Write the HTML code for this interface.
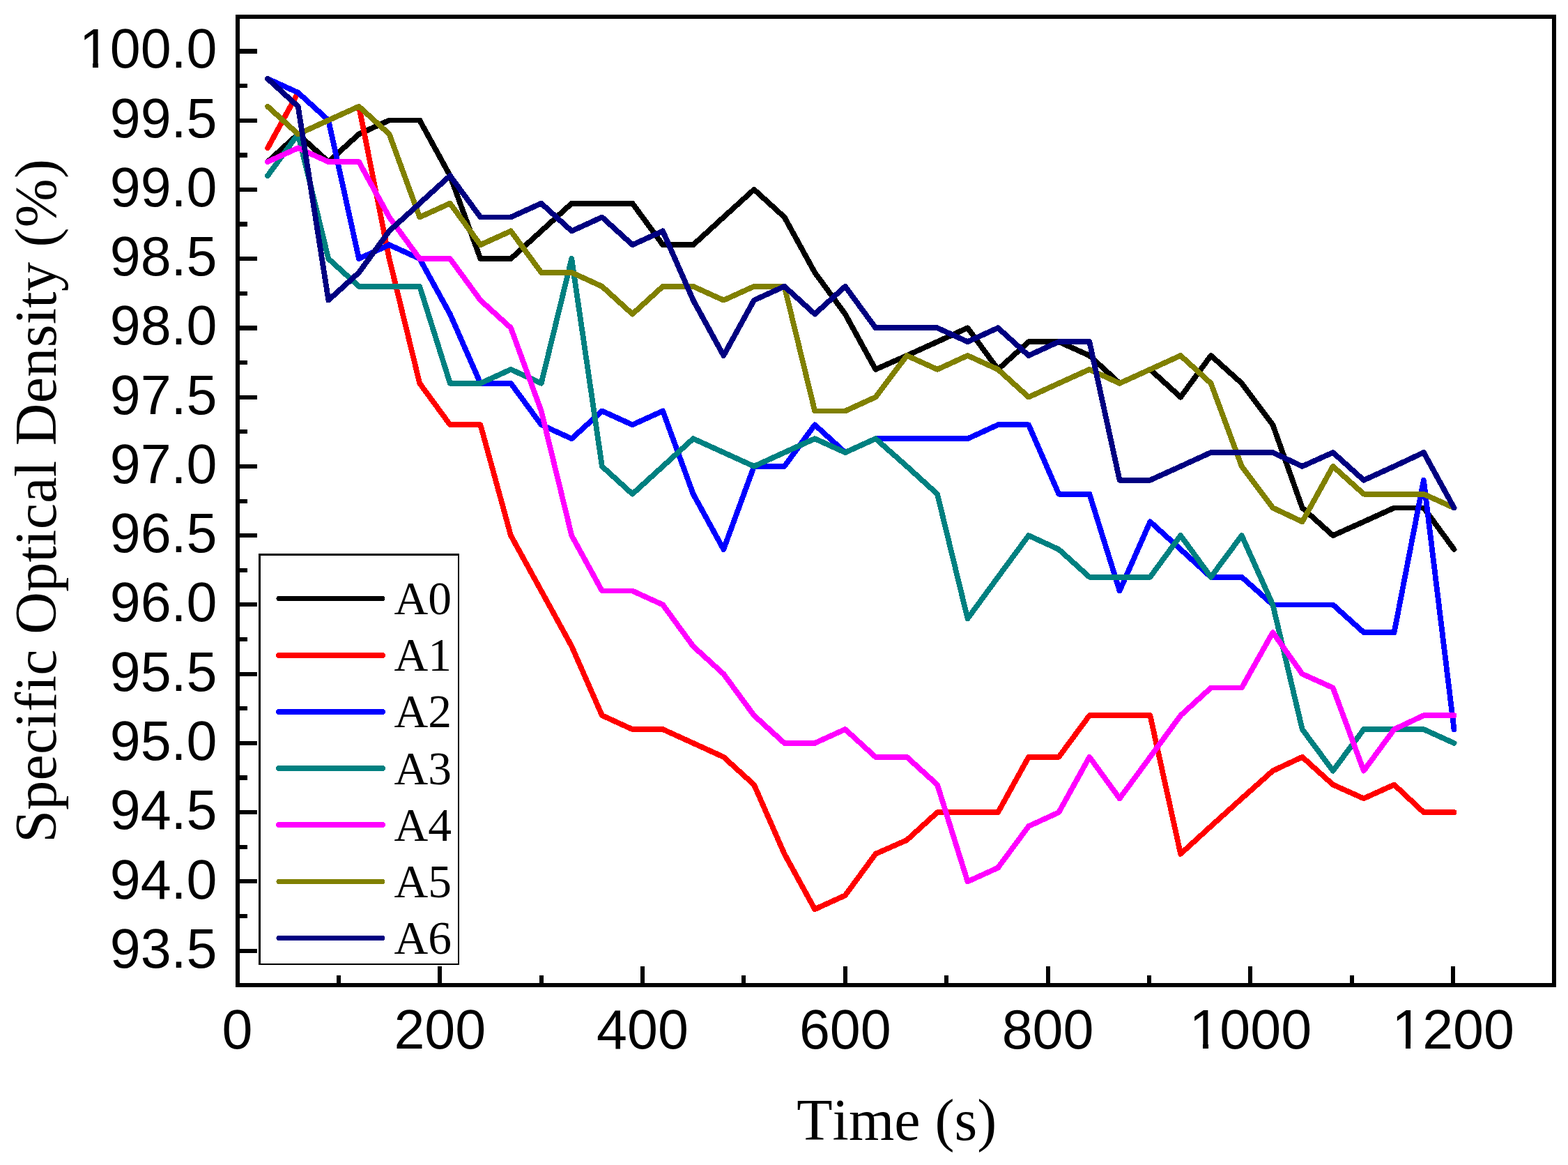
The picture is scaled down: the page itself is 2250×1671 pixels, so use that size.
<!DOCTYPE html>
<html lang="en"><head><meta charset="utf-8"><title>Specific Optical Density vs Time</title>
<style>
html,body{margin:0;padding:0;background:#fff;}
body{width:2250px;height:1671px;overflow:hidden;}
svg{display:block;}
text{font-variant-ligatures:none;font-kerning:none;fill:#000;}
.tk{font-family:"Liberation Sans",Arial,Helvetica,sans-serif;font-size:79px;}
.tt{font-family:"Liberation Serif","Times New Roman",Times,serif;font-size:84px;}
.lg{font-family:"Liberation Serif","Times New Roman",Times,serif;font-size:67.5px;}
.ax{stroke:#000;stroke-width:6;fill:none;shape-rendering:crispEdges;}
.ds{fill:none;stroke-width:7.8;stroke-linejoin:round;stroke-linecap:round;shape-rendering:crispEdges;}
</style></head><body>
<svg xmlns="http://www.w3.org/2000/svg" width="2250" height="1671" viewBox="0 0 2250 1671">
<rect x="0" y="0" width="2250" height="1671" fill="#ffffff"/>
<g class="ds">
<polyline stroke="#000000" points="384.1,232.1 427.7,192.4 471.3,232.1 515.0,192.4 558.6,172.5 602.2,172.5 645.8,252.0 689.4,371.1 733.0,371.1 776.7,331.4 820.3,291.7 863.9,291.7 907.5,291.7 951.1,351.2 994.7,351.2 1038.3,311.5 1082.0,271.8 1125.6,311.5 1169.2,390.9 1212.8,450.5 1256.4,529.9 1301.3,510.0 1345.0,490.2 1388.5,470.3 1432.1,529.9 1476.0,490.2 1519.3,490.2 1563.3,510.0 1606.6,549.8 1650.4,529.9 1694.1,569.6 1737.6,510.0 1781.8,549.8 1826.4,609.3 1868.7,728.4 1912.7,768.1 1956.9,748.3 2000.6,728.4 2042.9,728.4 2086.5,788.0"/>
<polyline stroke="#ff0000" points="384.1,212.3 427.7,132.8 471.3,172.5 515.0,152.7 558.6,371.1 602.2,549.8 645.8,609.3 689.4,609.3 733.0,768.1 776.7,847.5 820.3,927.0 863.9,1026.2 907.5,1046.1 951.1,1046.1 994.7,1065.9 1038.3,1085.8 1082.0,1125.5 1125.6,1224.8 1169.2,1304.2 1212.8,1284.3 1256.4,1224.8 1301.3,1204.9 1345.0,1165.2 1388.5,1165.2 1432.1,1165.2 1476.0,1085.8 1519.3,1085.8 1563.3,1026.2 1606.6,1026.2 1650.4,1026.2 1694.1,1224.8 1737.6,1185.1 1781.8,1145.3 1826.4,1105.6 1868.7,1085.8 1912.7,1125.5 1956.9,1145.3 2000.6,1125.5 2042.9,1165.2 2086.5,1165.2"/>
<polyline stroke="#0000ff" points="384.1,113.0 427.7,132.8 471.3,172.5 515.0,371.1 558.6,351.2 602.2,371.1 645.8,450.5 689.4,549.8 733.0,549.8 776.7,609.3 820.3,629.2 863.9,589.5 907.5,609.3 951.1,589.5 994.7,708.6 1038.3,788.0 1082.0,668.9 1125.6,668.9 1169.2,609.3 1212.8,649.0 1256.4,629.2 1301.3,629.2 1345.0,629.2 1388.5,629.2 1432.1,609.3 1476.0,609.3 1519.3,708.6 1563.3,708.6 1606.6,847.5 1650.4,748.3 1694.1,788.0 1737.6,827.7 1781.8,827.7 1826.4,867.4 1868.7,867.4 1912.7,867.4 1956.9,907.1 2000.6,907.1 2042.9,688.7 2086.5,1046.1"/>
<polyline stroke="#008080" points="384.1,252.0 427.7,192.4 471.3,371.1 515.0,410.8 558.6,410.8 602.2,410.8 645.8,549.8 689.4,549.8 733.0,529.9 776.7,549.8 820.3,371.1 863.9,668.9 907.5,708.6 951.1,668.9 994.7,629.2 1038.3,649.0 1082.0,668.9 1125.6,649.0 1169.2,629.2 1212.8,649.0 1256.4,629.2 1301.3,668.9 1345.0,708.6 1388.5,887.3 1432.1,827.7 1476.0,768.1 1519.3,788.0 1563.3,827.7 1606.6,827.7 1650.4,827.7 1694.1,768.1 1737.6,827.7 1781.8,768.1 1826.4,867.4 1868.7,1046.1 1912.7,1105.6 1956.9,1046.1 2000.6,1046.1 2042.9,1046.1 2086.5,1065.9"/>
<polyline stroke="#ff00ff" points="384.1,232.1 427.7,212.3 471.3,232.1 515.0,232.1 558.6,311.5 602.2,371.1 645.8,371.1 689.4,430.6 733.0,470.3 776.7,589.5 820.3,768.1 863.9,847.5 907.5,847.5 951.1,867.4 994.7,927.0 1038.3,966.7 1082.0,1026.2 1125.6,1065.9 1169.2,1065.9 1212.8,1046.1 1256.4,1085.8 1301.3,1085.8 1345.0,1125.5 1388.5,1264.5 1432.1,1244.6 1476.0,1185.1 1519.3,1165.2 1563.3,1085.8 1606.6,1145.3 1650.4,1085.8 1694.1,1026.2 1737.6,986.5 1781.8,986.5 1826.4,907.1 1868.7,966.7 1912.7,986.5 1956.9,1105.6 2000.6,1046.1 2042.9,1026.2 2086.5,1026.2"/>
<polyline stroke="#808000" points="384.1,152.7 427.7,192.4 471.3,172.5 515.0,152.7 558.6,192.4 602.2,311.5 645.8,291.7 689.4,351.2 733.0,331.4 776.7,390.9 820.3,390.9 863.9,410.8 907.5,450.5 951.1,410.8 994.7,410.8 1038.3,430.6 1082.0,410.8 1125.6,410.8 1169.2,589.5 1212.8,589.5 1256.4,569.6 1301.3,510.0 1345.0,529.9 1388.5,510.0 1432.1,529.9 1476.0,569.6 1519.3,549.8 1563.3,529.9 1606.6,549.8 1650.4,529.9 1694.1,510.0 1737.6,549.8 1781.8,668.9 1826.4,728.4 1868.7,748.3 1912.7,668.9 1956.9,708.6 2000.6,708.6 2042.9,708.6 2086.5,728.4"/>
<polyline stroke="#000080" points="384.1,113.0 427.7,152.7 471.3,430.6 515.0,390.9 558.6,331.4 602.2,291.7 645.8,252.0 689.4,311.5 733.0,311.5 776.7,291.7 820.3,331.4 863.9,311.5 907.5,351.2 951.1,331.4 994.7,430.6 1038.3,510.0 1082.0,430.6 1125.6,410.8 1169.2,450.5 1212.8,410.8 1256.4,470.3 1301.3,470.3 1345.0,470.3 1388.5,490.2 1432.1,470.3 1476.0,510.0 1519.3,490.2 1563.3,490.2 1606.6,688.7 1650.4,688.7 1694.1,668.9 1737.6,649.0 1781.8,649.0 1826.4,649.0 1868.7,668.9 1912.7,649.0 1956.9,688.7 2000.6,668.9 2042.9,649.0 2086.5,728.4"/>
</g>
<g fill="#000" shape-rendering="crispEdges">
<path d="M338 21h1895v6h-1895zM338 1410h1895v6h-1895zM338 21h6v1395h-6zM2227 21h6v1395h-6zM344 1361h25v6h-25zM344 1261h25v6h-25zM344 1162h25v6h-25zM344 1063h25v6h-25zM344 964h25v6h-25zM344 864h25v6h-25zM344 765h25v6h-25zM344 666h25v6h-25zM344 567h25v6h-25zM344 467h25v7h-25zM344 368h25v6h-25zM344 269h25v6h-25zM344 170h25v6h-25zM344 70h25v7h-25zM344 1311h11v6h-11zM344 1212h11v6h-11zM344 1112h11v7h-11zM344 1013h11v6h-11zM344 914h11v6h-11zM344 815h11v6h-11zM344 716h11v6h-11zM344 616h11v6h-11zM344 517h11v6h-11zM344 418h11v6h-11zM344 318h11v7h-11zM344 219h11v7h-11zM344 120h11v6h-11zM344 21h11v6h-11zM628 1386h6v24h-6zM919 1386h6v24h-6zM1210 1386h6v24h-6zM1501 1386h6v24h-6zM1791 1386h6v24h-6zM2082 1386h6v24h-6zM483 1399h6v11h-6zM774 1399h6v11h-6zM1064 1399h6v11h-6zM1355 1399h6v11h-6zM1646 1399h6v11h-6zM1937 1399h6v11h-6z"/>
</g>
<g class="tk" text-anchor="end">
<text x="311.5" y="1387.7">93.5</text>
<text x="311.5" y="1288.5">94.0</text>
<text x="311.5" y="1189.2">94.5</text>
<text x="311.5" y="1089.9">95.0</text>
<text x="311.5" y="990.7">95.5</text>
<text x="311.5" y="891.4">96.0</text>
<text x="311.5" y="792.1">96.5</text>
<text x="311.5" y="692.9">97.0</text>
<text x="311.5" y="593.6">97.5</text>
<text x="311.5" y="494.3">98.0</text>
<text x="311.5" y="395.1">98.5</text>
<text x="311.5" y="295.8">99.0</text>
<text x="311.5" y="196.5">99.5</text>
<text x="311.5" y="97.3">100.0</text>
</g>
<g class="tk" text-anchor="middle">
<text x="340.5" y="1504">0</text>
<text x="631.3" y="1504">200</text>
<text x="922.0" y="1504">400</text>
<text x="1212.8" y="1504">600</text>
<text x="1503.6" y="1504">800</text>
<text x="1794.3" y="1504">1000</text>
<text x="2085.1" y="1504">1200</text>
</g>
<g fill="#fff" shape-rendering="crispEdges">
<rect x="118" y="90" width="15" height="8"/>
<rect x="141" y="90" width="14" height="8"/>
<rect x="1711" y="1497" width="15" height="8"/>
<rect x="1734" y="1497" width="14" height="8"/>
<rect x="2002" y="1497" width="15" height="8"/>
<rect x="2024" y="1497" width="15" height="8"/>
</g>
<text class="tt" text-anchor="middle" x="1286.7" y="1635">Time (s)</text>
<text class="tt" text-anchor="middle" textLength="980.9" lengthAdjust="spacing" transform="translate(80.3 718.35) rotate(-90)">Specific Optical Density (%)</text>
<rect x="371" y="794" width="288" height="590" fill="#000" shape-rendering="crispEdges"/>
<rect x="374" y="797" width="283" height="585" fill="#fff" shape-rendering="crispEdges"/>
<line x1="400" y1="858.5" x2="549" y2="858.5" stroke="#000000" stroke-width="7" stroke-linecap="round" shape-rendering="crispEdges"/>
<text class="lg" x="565.5" y="881.0">A0</text>
<line x1="400" y1="940" x2="549" y2="940" stroke="#ff0000" stroke-width="8" stroke-linecap="round" shape-rendering="crispEdges"/>
<text class="lg" x="565.5" y="962.1">A1</text>
<line x1="400" y1="1021" x2="549" y2="1021" stroke="#0000ff" stroke-width="8" stroke-linecap="round" shape-rendering="crispEdges"/>
<text class="lg" x="565.5" y="1043.3">A2</text>
<line x1="400" y1="1102" x2="549" y2="1102" stroke="#008080" stroke-width="8" stroke-linecap="round" shape-rendering="crispEdges"/>
<text class="lg" x="565.5" y="1124.5">A3</text>
<line x1="400" y1="1183" x2="549" y2="1183" stroke="#ff00ff" stroke-width="8" stroke-linecap="round" shape-rendering="crispEdges"/>
<text class="lg" x="565.5" y="1205.6">A4</text>
<line x1="400" y1="1264.5" x2="549" y2="1264.5" stroke="#808000" stroke-width="7" stroke-linecap="round" shape-rendering="crispEdges"/>
<text class="lg" x="565.5" y="1286.8">A5</text>
<line x1="400" y1="1345.5" x2="549" y2="1345.5" stroke="#000080" stroke-width="7" stroke-linecap="round" shape-rendering="crispEdges"/>
<text class="lg" x="565.5" y="1367.9">A6</text>
</svg>
</body></html>
